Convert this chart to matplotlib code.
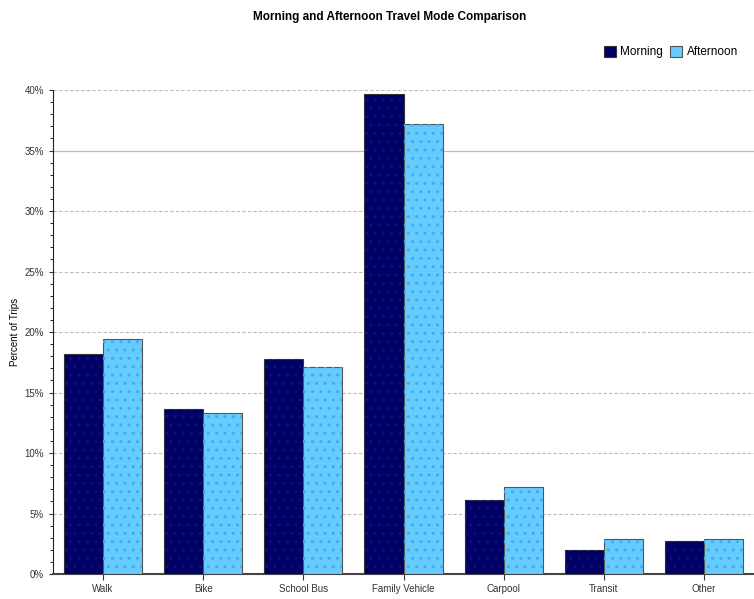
import numpy as np
import matplotlib
matplotlib.use("Agg")
import matplotlib.pyplot as plt
from matplotlib.ticker import MultipleLocator, FuncFormatter

plt.rcParams['font.family'] = ['Liberation Sans', 'DejaVu Sans']

modes = ["Walk", "Bike", "School Bus", "Family Vehicle", "Carpool", "Transit", "Other"]
morning = [18.2, 13.6, 17.8, 39.7, 6.1, 2.0, 2.7]
afternoon = [19.4, 13.3, 17.1, 37.2, 7.2, 2.9, 2.9]

fig = plt.figure(figsize=(7.54, 5.99), dpi=100)
ax = fig.add_axes([0.0703, 0.0417, 0.9297, 0.808])

x = np.arange(len(modes))
w = 0.39

# navy / sky blue bars with a faint dotted texture on top
b1 = ax.bar(x - w/2, morning, w, color="#000066", edgecolor="#333333", linewidth=0.8, zorder=3, label="Morning")
b2 = ax.bar(x + w/2, afternoon, w, color="#66CCFF", edgecolor="#555555", linewidth=0.8, zorder=3, label="Afternoon")
ax.bar(x - w/2, morning, w, color="none", edgecolor="#10106e", hatch="..", linewidth=0, zorder=4)
ax.bar(x + w/2, afternoon, w, color="none", edgecolor="#44aaf0", hatch="..", linewidth=0, zorder=4)

ax.set_xlim(-0.5, len(modes) - 0.5)
ax.set_ylim(0, 40)
ax.set_xticks(x)
ax.set_xticklabels(modes, fontsize=7)
ax.yaxis.set_major_locator(MultipleLocator(5))
ax.yaxis.set_minor_locator(MultipleLocator(1))
ax.yaxis.set_major_formatter(FuncFormatter(lambda v, p: f"{v:.0f}%"))
ax.tick_params(axis="y", labelsize=7, colors="#333333", length=3)
ax.tick_params(axis="y", which="minor", length=2)
ax.tick_params(axis="x", length=4, colors="#333333")

for v in range(5, 41, 5):
    if v == 35:
        ax.axhline(v, color="#bbbbbb", linewidth=0.9, zorder=1)
    else:
        ax.axhline(v, color="#bbbbbb", linewidth=0.8, linestyle=(0, (3, 2)), zorder=1)

for s in ["top", "right"]:
    ax.spines[s].set_visible(False)
ax.spines["left"].set_color("#222222")
ax.spines["bottom"].set_color("#444444")
ax.spines["bottom"].set_linestyle((0, (1, 1)))
ax.spines["bottom"].set_linewidth(1.5)

ax.set_ylabel("Percent of Trips", fontsize=7, labelpad=3)
fig.text(0.517, 0.972, "Morning and Afternoon Travel Mode Comparison", fontsize=8.5,
         fontweight="bold", ha="center", va="center")
fig.legend(handles=[b1, b2], loc="center right", bbox_to_anchor=(0.993, 0.913), ncol=2,
           frameon=False, fontsize=8.5, handlelength=1.0, handleheight=1.0,
           handletextpad=0.4, columnspacing=0.6)

fig.savefig("out.png", dpi=100)
